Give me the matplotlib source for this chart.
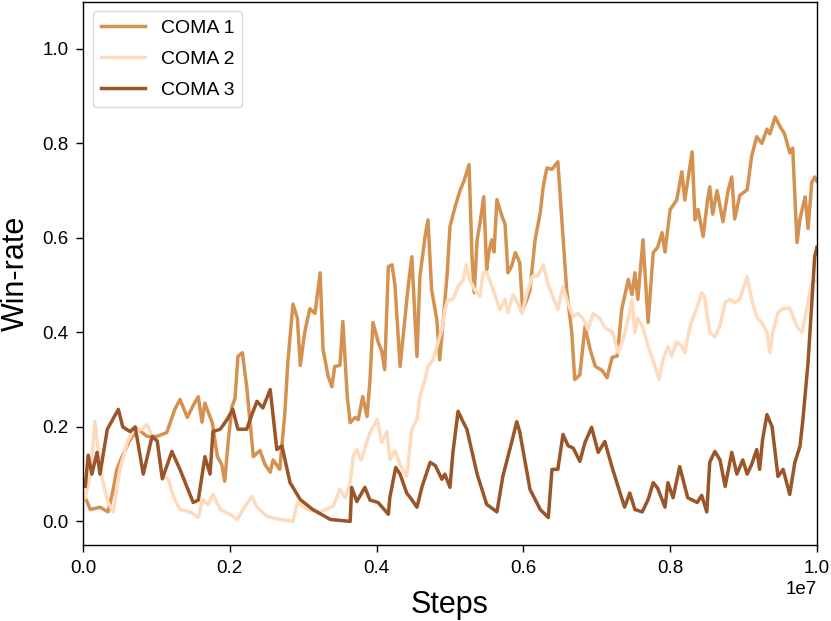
import matplotlib
matplotlib.use("Agg")
import matplotlib.pyplot as plt

plt.rcParams['font.family'] = ['Liberation Sans', 'DejaVu Sans']

# steps in millions, win-rate
coma1_x = [0.03,0.10,0.23,0.34,0.40,0.46,0.54,0.64,0.75,0.87,1.01,1.14,1.25,1.32,1.42,1.50,1.57,1.62,1.66,1.76,1.83,1.89,1.93,1.98,2.03,2.07,2.11,2.17,2.23,2.32,2.41,2.48,2.55,2.59,2.68,2.75,2.79,2.86,2.92,2.96,3.02,3.09,3.16,3.23,3.27,3.34,3.39,3.43,3.50,3.54,3.60,3.64,3.71,3.75,3.81,3.87,3.91,3.95,4.02,4.07,4.11,4.16,4.21,4.25,4.32,4.36,4.43,4.48,4.55,4.59,4.66,4.70,4.75,4.82,4.86,4.90,4.96,5.00,5.07,5.14,5.19,5.26,5.30,5.33,5.37,5.41,5.46,5.50,5.53,5.57,5.60,5.64,5.71,5.75,5.79,5.84,5.89,5.95,5.99,6.05,6.09,6.16,6.23,6.27,6.32,6.39,6.47,6.53,6.59,6.66,6.70,6.77,6.84,6.91,6.98,7.07,7.14,7.21,7.28,7.34,7.43,7.48,7.52,7.56,7.63,7.70,7.77,7.83,7.89,7.93,8.00,8.09,8.16,8.20,8.30,8.34,8.38,8.45,8.51,8.54,8.58,8.64,8.72,8.79,8.84,8.88,8.95,9.05,9.11,9.18,9.25,9.32,9.36,9.43,9.50,9.56,9.63,9.67,9.73,9.77,9.84,9.88,9.93,9.97,10.0]
coma1_y = [0.05,0.025,0.03,0.02,0.06,0.11,0.14,0.173,0.195,0.18,0.18,0.188,0.237,0.258,0.22,0.245,0.264,0.21,0.25,0.209,0.137,0.12,0.085,0.173,0.243,0.26,0.349,0.357,0.285,0.137,0.15,0.12,0.104,0.13,0.11,0.23,0.336,0.46,0.43,0.33,0.40,0.45,0.44,0.526,0.364,0.307,0.285,0.328,0.33,0.423,0.264,0.209,0.22,0.215,0.264,0.222,0.30,0.421,0.38,0.36,0.321,0.539,0.543,0.50,0.328,0.39,0.497,0.56,0.349,0.518,0.603,0.638,0.49,0.427,0.342,0.412,0.52,0.624,0.666,0.702,0.72,0.755,0.56,0.484,0.596,0.632,0.687,0.533,0.57,0.596,0.57,0.681,0.645,0.63,0.526,0.54,0.569,0.548,0.448,0.47,0.49,0.596,0.653,0.708,0.748,0.745,0.761,0.624,0.49,0.40,0.30,0.31,0.412,0.364,0.328,0.32,0.304,0.347,0.35,0.448,0.512,0.48,0.526,0.47,0.596,0.421,0.569,0.58,0.611,0.57,0.66,0.68,0.74,0.68,0.782,0.638,0.66,0.603,0.68,0.708,0.65,0.70,0.634,0.70,0.729,0.64,0.69,0.702,0.772,0.814,0.80,0.83,0.82,0.856,0.835,0.82,0.78,0.79,0.59,0.64,0.687,0.62,0.717,0.729,0.72]

coma2_x = [0.03,0.10,0.16,0.20,0.26,0.34,0.41,0.46,0.50,0.60,0.68,0.80,0.87,0.94,1.01,1.08,1.16,1.23,1.32,1.46,1.57,1.63,1.70,1.77,1.87,2.00,2.10,2.18,2.30,2.37,2.51,2.68,2.86,2.92,3.05,3.23,3.41,3.50,3.57,3.64,3.68,3.73,3.79,3.84,3.91,4.01,4.07,4.14,4.18,4.25,4.32,4.41,4.48,4.55,4.59,4.66,4.70,4.77,4.82,4.89,4.93,4.97,5.04,5.11,5.18,5.22,5.27,5.34,5.41,5.45,5.50,5.57,5.61,5.68,5.75,5.79,5.86,5.93,5.98,6.05,6.12,6.20,6.27,6.34,6.40,6.47,6.54,6.61,6.68,6.74,6.81,6.88,6.95,7.04,7.11,7.22,7.29,7.36,7.43,7.48,7.52,7.56,7.63,7.70,7.77,7.85,7.90,7.97,8.02,8.09,8.16,8.20,8.27,8.37,8.43,8.47,8.54,8.61,8.68,8.75,8.81,8.88,8.95,9.05,9.11,9.18,9.25,9.32,9.36,9.40,9.47,9.54,9.63,9.73,9.80,9.86,9.93,10.0]
coma2_y = [0.05,0.10,0.211,0.159,0.089,0.04,0.02,0.07,0.11,0.167,0.19,0.195,0.205,0.18,0.17,0.095,0.09,0.053,0.025,0.02,0.008,0.046,0.035,0.057,0.025,0.015,0.004,0.025,0.053,0.03,0.01,0.004,0.0,0.04,0.025,0.02,0.032,0.068,0.05,0.082,0.137,0.152,0.13,0.155,0.188,0.216,0.167,0.19,0.131,0.15,0.12,0.095,0.195,0.216,0.264,0.30,0.328,0.342,0.37,0.406,0.448,0.469,0.47,0.497,0.51,0.543,0.51,0.49,0.476,0.526,0.527,0.497,0.48,0.448,0.47,0.442,0.48,0.46,0.44,0.484,0.518,0.52,0.543,0.50,0.476,0.448,0.497,0.46,0.433,0.44,0.43,0.406,0.44,0.43,0.41,0.40,0.357,0.385,0.43,0.469,0.40,0.43,0.41,0.37,0.34,0.30,0.34,0.37,0.35,0.38,0.37,0.357,0.412,0.455,0.484,0.475,0.40,0.39,0.415,0.463,0.47,0.463,0.47,0.518,0.47,0.433,0.42,0.40,0.357,0.40,0.442,0.45,0.452,0.412,0.40,0.448,0.505,0.51]

coma3_x = [0.03,0.07,0.12,0.19,0.23,0.33,0.48,0.54,0.64,0.71,0.82,0.94,1.01,1.08,1.21,1.32,1.50,1.57,1.66,1.73,1.77,1.87,1.96,2.04,2.11,2.23,2.30,2.37,2.45,2.55,2.64,2.71,2.82,2.96,3.13,3.37,3.64,3.66,3.73,3.84,3.91,4.02,4.16,4.18,4.26,4.32,4.41,4.46,4.55,4.62,4.73,4.80,4.89,4.93,5.00,5.04,5.11,5.18,5.23,5.37,5.50,5.64,5.72,5.84,5.91,5.95,6.09,6.23,6.34,6.39,6.47,6.54,6.61,6.68,6.77,6.84,6.93,7.02,7.11,7.21,7.29,7.38,7.45,7.52,7.62,7.70,7.77,7.83,7.93,7.97,8.04,8.13,8.24,8.37,8.43,8.50,8.54,8.61,8.68,8.75,8.84,8.91,8.99,9.05,9.11,9.18,9.22,9.26,9.32,9.39,9.47,9.54,9.63,9.70,9.77,9.81,9.88,9.97,10.0]
coma3_y = [0.074,0.14,0.10,0.146,0.10,0.195,0.237,0.20,0.19,0.20,0.10,0.18,0.17,0.09,0.148,0.11,0.04,0.045,0.137,0.10,0.19,0.195,0.215,0.237,0.195,0.195,0.226,0.254,0.24,0.279,0.152,0.16,0.082,0.046,0.025,0.004,0.0,0.072,0.042,0.072,0.045,0.04,0.015,0.05,0.114,0.10,0.06,0.05,0.03,0.074,0.125,0.118,0.089,0.10,0.072,0.146,0.233,0.21,0.195,0.10,0.036,0.02,0.095,0.167,0.211,0.19,0.068,0.025,0.008,0.11,0.11,0.184,0.16,0.155,0.127,0.167,0.199,0.146,0.169,0.114,0.074,0.03,0.06,0.025,0.02,0.046,0.082,0.07,0.03,0.082,0.05,0.116,0.05,0.04,0.055,0.02,0.125,0.148,0.13,0.074,0.146,0.10,0.13,0.10,0.12,0.152,0.11,0.173,0.226,0.20,0.095,0.11,0.057,0.125,0.159,0.216,0.336,0.56,0.58]

labels = ['COMA 1', 'COMA 2', 'COMA 3']
colors = ['#d4914f', '#fddbbe', '#9a5528']

fig = plt.figure(figsize=(8.31, 6.21), dpi=100)
ax = fig.add_axes([0.1, 0.1224, 0.883, 0.875])

for xs, ys, lab, col in [(coma1_x, coma1_y, labels[0], colors[0]),
                         (coma2_x, coma2_y, labels[1], colors[1]),
                         (coma3_x, coma3_y, labels[2], colors[2])]:
    ax.plot([v * 1e6 for v in xs], ys, color=col, lw=2.5, label=lab)

ax.set_xlim(0, 1e7)
ax.set_ylim(-0.05, 1.1)
ax.set_yticks([0.0, 0.2, 0.4, 0.6, 0.8, 1.0])
ax.set_xticks([0, 2e6, 4e6, 6e6, 8e6, 1e7])
ax.tick_params(labelsize=13.5, length=5, width=1.0, pad=5.5)
for s in ax.spines.values():
    s.set_linewidth(1.0)
ax.xaxis.get_offset_text().set_fontsize(13.5)
ax.set_xlabel('Steps', fontsize=22, labelpad=10)
ax.set_ylabel('Win-rate', fontsize=22, labelpad=8)
leg = ax.legend(loc='upper left', fontsize=14, frameon=True, fancybox=True,
                handlelength=2.3, labelspacing=0.7)
leg.get_frame().set_edgecolor('#cccccc')

fig.savefig('out.png', dpi=100)
